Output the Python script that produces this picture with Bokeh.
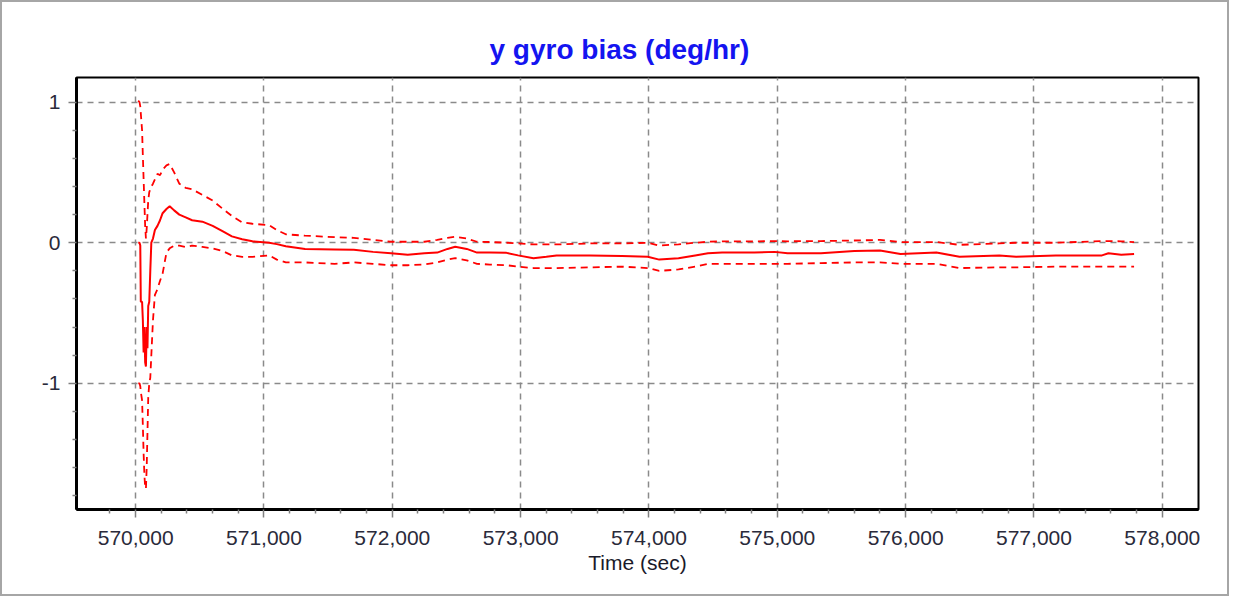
from bokeh.plotting import figure
from bokeh.models import Range1d, FixedTicker, NumeralTickFormatter, ColumnDataSource
from bokeh.embed import file_html
from bokeh.resources import INLINE

# ---- data ----
time_sec = [570020, 570030, 570036, 570040, 570050, 570056, 570062, 570068, 570074, 570080,
            570086, 570092, 570098, 570106, 570114, 570122, 570135, 570150, 570170, 570190,
            570210, 570240, 570265, 570300, 570340, 570390, 570440, 570520, 570600, 570680,
            570750, 570830, 570910, 571040, 571100, 571170, 571320, 571550, 571700, 571850,
            571990, 572120, 572250, 572350, 572430, 572490, 572580, 572660, 572760, 572890,
            572980, 573100, 573200, 573280, 573540, 573790, 573990, 574080, 574230, 574360,
            574460, 574570, 574820, 574980, 575080, 575340, 575600, 575800, 575960, 576240,
            576420, 576730, 576860, 577170, 577530, 577580, 577680, 577780]
bias_mean = [0.00, 0.00, -0.02, -0.42, -0.42, -0.55, -0.78, -0.60, -0.85, -0.88,
             -0.60, -0.75, -0.45, -0.42, -0.20, 0.00, 0.03, 0.09, 0.12, 0.16,
             0.21, 0.24, 0.26, 0.23, 0.20, 0.18, 0.16, 0.15, 0.12, 0.08,
             0.045, 0.025, 0.01, 0.00, -0.01, -0.025, -0.045, -0.048, -0.05, -0.065,
             -0.075, -0.085, -0.075, -0.07, -0.044, -0.028, -0.044, -0.07, -0.07, -0.072,
             -0.09, -0.11, -0.10, -0.09, -0.09, -0.095, -0.10, -0.12, -0.11, -0.09,
             -0.075, -0.07, -0.07, -0.065, -0.075, -0.075, -0.058, -0.056, -0.08, -0.07,
             -0.10, -0.09, -0.10, -0.09, -0.09, -0.075, -0.085, -0.08]
bias_upper = [1.01, 1.00, 0.97, 0.92, 0.80, 0.62, 0.45, 0.28, 0.12, 0.03,
              0.10, 0.20, 0.30, 0.36, 0.38, 0.40, 0.42, 0.45, 0.49, 0.48,
              0.52, 0.55, 0.56, 0.50, 0.42, 0.39, 0.38, 0.34, 0.30, 0.24,
              0.19, 0.145, 0.135, 0.125, 0.09, 0.06, 0.05, 0.04, 0.035, 0.02,
              0.007, 0.007, 0.007, 0.02, 0.035, 0.042, 0.03, 0.007, 0.005, 0.0,
              -0.005, -0.012, -0.012, -0.012, -0.005, -0.005, 0.0, -0.02, -0.012, 0.0,
              0.007, 0.01, 0.01, 0.012, 0.01, 0.012, 0.016, 0.02, 0.005, 0.005,
              -0.015, -0.005, 0.0, 0.0, 0.012, 0.012, 0.01, 0.005]
bias_lower = [-1.00, -1.00, -1.02, -1.06, -1.12, -1.30, -1.50, -1.65, -1.74, -1.75,
              -1.60, -1.35, -1.10, -1.00, -0.96, -0.80, -0.55, -0.37, -0.33, -0.27,
              -0.22, -0.07, -0.04, -0.02, -0.02, -0.03, -0.02, -0.03, -0.04, -0.06,
              -0.09, -0.10, -0.10, -0.09, -0.12, -0.14, -0.14, -0.15, -0.14, -0.15,
              -0.16, -0.16, -0.155, -0.14, -0.12, -0.11, -0.125, -0.15, -0.155, -0.16,
              -0.17, -0.18, -0.18, -0.18, -0.175, -0.17, -0.18, -0.20, -0.19, -0.17,
              -0.15, -0.15, -0.15, -0.15, -0.15, -0.145, -0.14, -0.14, -0.15, -0.15,
              -0.18, -0.175, -0.175, -0.17, -0.17, -0.17, -0.17, -0.17]

x_major_ticks = [570000, 571000, 572000, 573000, 574000, 575000, 576000, 577000, 578000]
x_minor_ticks = [569800, 570200, 570400, 570600, 570800, 571200, 571400, 571600, 571800,
                 572200, 572400, 572600, 572800, 573200, 573400, 573600, 573800,
                 574200, 574400, 574600, 574800, 575200, 575400, 575600, 575800,
                 576200, 576400, 576600, 576800, 577200, 577400, 577600, 577800]
y_major_ticks = [-1, 0, 1]
y_minor_ticks = [-1.8, -1.6, -1.4, -1.2, -0.8, -0.6, -0.4, -0.2, 0.2, 0.4, 0.6, 0.8]
y_tick_labels = {-1: "-1", 0: "0", 1: "1"}

src = ColumnDataSource(dict(t=time_sec, m=bias_mean, u=bias_upper, l=bias_lower))

p = figure(width=1229, height=596, output_backend="svg", toolbar_location=None,
           x_range=Range1d(569539, 578282), y_range=Range1d(-1.897, 1.175),
           min_border_left=74, min_border_top=75, min_border_right=33, min_border_bottom=89)
p.styles = {"border": "2px solid #a6a6a6"}

p.title.text = "y gyro bias (deg/hr)"
p.title.text_color = "#1414f0"
p.title.text_font = "Liberation Sans"
p.title.text_font_size = "28px"
p.title.text_font_style = "bold"
p.title.align = "left"
p.title.offset = 413
p.title.standoff = 25

p.outline_line_color = "black"
p.outline_line_width = 2
p.background_fill_color = "white"
p.border_fill_color = "white"

xt = FixedTicker(ticks=x_major_ticks, minor_ticks=x_minor_ticks)
yt = FixedTicker(ticks=y_major_ticks, minor_ticks=y_minor_ticks)
p.xaxis.ticker = xt
p.yaxis.ticker = yt
p.xaxis.formatter = NumeralTickFormatter(format="0,0")
p.yaxis.major_label_overrides = y_tick_labels
p.xaxis.axis_label = "Time (sec)"

for ax in (p.xaxis[0], p.yaxis[0]):
    ax.axis_line_color = "black"
    ax.axis_line_width = 3
    ax.major_tick_line_color = "#808080"
    ax.minor_tick_line_color = "#808080"
    ax.major_tick_line_width = 1.5
    ax.minor_tick_line_width = 1.5
    ax.major_tick_in = 0
    ax.minor_tick_in = 0
    ax.major_tick_out = 8
    ax.minor_tick_out = 4
    ax.major_label_text_font = "Liberation Sans"
    ax.major_label_text_font_size = "21px"
    ax.major_label_text_color = "#2a2a3a"
    ax.axis_label_text_font = "Liberation Sans"
    ax.axis_label_text_font_size = "21px"
    ax.axis_label_text_font_style = "normal"
    ax.axis_label_text_color = "#1a1a2a"

p.xaxis.major_label_standoff = 13
p.xaxis.axis_label_standoff = 3
p.yaxis.major_label_standoff = 8

for g in (p.xgrid[0], p.ygrid[0]):
    g.grid_line_color = "#8a8a8a"
    g.grid_line_width = 1.5
    g.grid_line_dash = "6 5"

p.line("t", "u", source=src, line_color="#ff0000", line_width=1.8, line_dash="7 5")
p.line("t", "l", source=src, line_color="#ff0000", line_width=1.8, line_dash="7 5")
p.line("t", "m", source=src, line_color="#ff0000", line_width=2)

open("out.html", "w").write(file_html(p, INLINE))
